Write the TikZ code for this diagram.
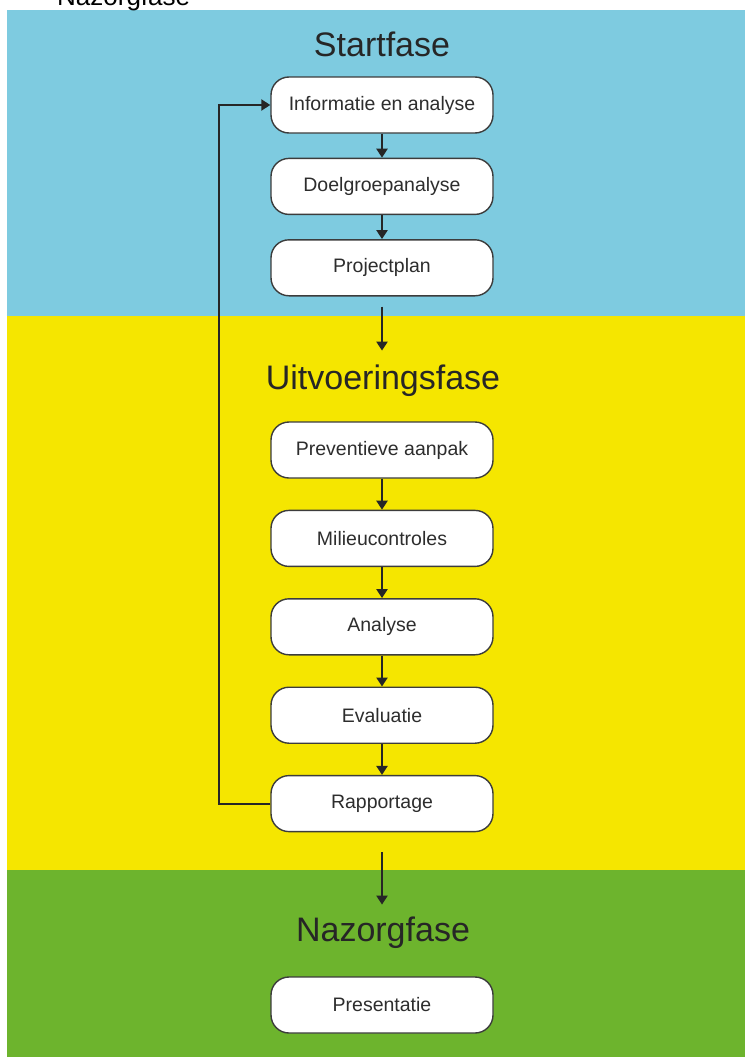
\documentclass[tikz,border=0pt]{standalone}
\usepackage{fontspec}
\setmainfont{Liberation Sans}
\usetikzlibrary{positioning,arrows.meta}

\definecolor{startblue}{RGB}{126,203,224}
\definecolor{uitvyellow}{RGB}{245,230,0}
\definecolor{nazorggreen}{RGB}{109,180,45}
\definecolor{boxline}{RGB}{60,60,60}
\definecolor{boxtext}{RGB}{45,45,45}

\begin{document}
\begin{tikzpicture}[x=1pt,y=-1pt]
  \tikzset{
    fasebox/.style={draw=boxline, line width=1.4pt, fill=white, rounded corners=18pt,
      minimum width=222pt, minimum height=56pt, text=boxtext,
      font=\fontsize{19.5}{22}\selectfont},
    fasetitle/.style={inner sep=0pt, text height=25pt, text depth=0pt, text=black!85,
      font=\fontsize{34}{40}\selectfont},
    arr/.style={line width=2.2pt, black!85, -{Triangle[length=9pt,width=11pt]}}
  }

  \useasboundingbox (0,0) rectangle (745,1057);
  \clip (0,0) rectangle (745,1057);

  % bands
  \fill[startblue] (7,10) rectangle (745,316);
  \fill[uitvyellow] (7,316) rectangle (745,870);
  \fill[nazorggreen] (7,870) rectangle (745,1057);

  % cut-off line above the picture
  \node[anchor=base west, inner sep=0pt, font=\fontsize{26}{30}\selectfont] (bullet) at (6,6) {•};
  \node[anchor=base west, inner sep=0pt, font=\fontsize{26}{30}\selectfont] (toptext) at (57,6) {Nazorgfase};

  % startfase
  \node[fasetitle, anchor=south] (start) at (382,57) {Startfase};
  \node[fasebox] (info) at (382,105) {Informatie en analyse};
  \node[fasebox, below=24pt of info] (doel) {Doelgroepanalyse};
  \node[fasebox, below=24pt of doel] (plan) {Projectplan};

  % uitvoeringsfase
  \node[fasetitle, anchor=south] (uitv) at (383,390) {Uitvoeringsfase};
  \node[fasebox] (prev) at (382,450) {Preventieve aanpak};
  \node[fasebox, below=31pt of prev] (milieu) {Milieucontroles};
  \node[fasebox, below=31pt of milieu] (analyse) {Analyse};
  \node[fasebox, below=31pt of analyse] (eval) {Evaluatie};
  \node[fasebox, below=31pt of eval] (rapp) {Rapportage};

  % nazorgfase
  \node[fasetitle, anchor=south] (nazorg) at (383,942) {Nazorgfase};
  \node[fasebox] (pres) at (382,1005) {Presentatie};

  \draw[arr] (info) -- (doel);
  \draw[arr] (doel) -- (plan);
  \draw[arr, shorten <=10pt, shorten >=14pt] (plan) -- (plan.south |- uitv.north);
  \draw[arr] (prev) -- (milieu);
  \draw[arr] (milieu) -- (analyse);
  \draw[arr] (analyse) -- (eval);
  \draw[arr] (eval) -- (rapp);
  \draw[arr, shorten <=20pt, shorten >=12pt] (rapp) -- (rapp.south |- nazorg.north);
  \draw[arr] (rapp.west) -- ++(-51,0) |- (info.west);
\end{tikzpicture}
\end{document}
